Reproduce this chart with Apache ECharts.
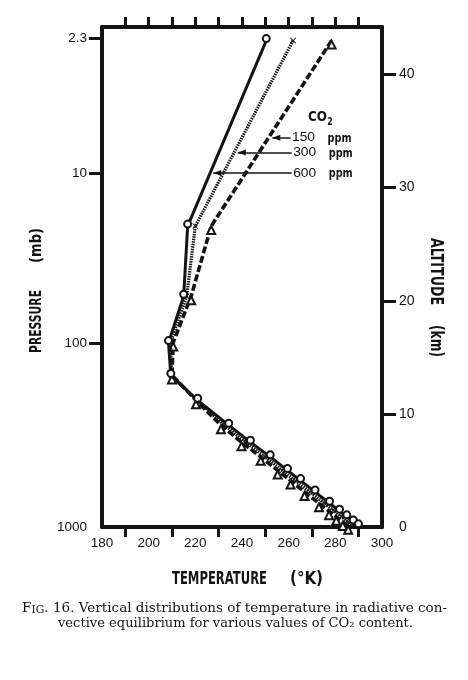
<!DOCTYPE html>
<html><head><meta charset="utf-8">
<script src="https://cdn.jsdelivr.net/npm/echarts@6/dist/echarts.min.js"></script>
<style>html,body{margin:0;padding:0;background:#fff}#c{width:468px;height:680px}</style>
</head><body><div id="c"></div>
<script>
// ---- data (altitude in km, temperature in K) ----
const levelsKm = [43.0, 26.6, 20.4, 16.3, 13.4, 11.2, 9.0, 7.5, 6.2, 5.0, 4.1, 3.1, 2.1, 1.4, 0.9, 0.45, 0.1];
const temp600 = [250.4, 216.7, 215.0, 208.5, 209.5, 221.0, 234.3, 243.6, 252.1, 259.5, 265.1, 271.3, 277.5, 281.8, 284.9, 287.7, 289.9];
const temp300 = [261.9, 220.0, 216.3, 209.3, 209.8, 220.7, 232.6, 241.6, 249.9, 257.3, 262.9, 269.1, 275.3, 279.6, 282.7, 285.5, 287.8];
const temp150 = [278.4, 226.8, 218.2, 210.5, 210.0, 220.3, 231.0, 239.8, 248.0, 255.3, 260.8, 266.8, 273.0, 277.3, 280.4, 283.2, 285.5];
const seriesNames = ['600 ppm', '300 ppm', '150 ppm'];

const tempLabelTicks = [190, 210, 230, 250, 270, 290];
const tempTopTicks = [190, 200, 210, 220, 230, 240, 250, 260, 270, 280, 290];
const pressureLabels = ['1000', '100', '10', '2.3'];
const pressureAltKm = [0, 16.25, 31.3, 43.2];
const altitudeTicks = [0, 10, 20, 30, 40];

// CO2 annotation arrows: label, altitude, start T, tip T
const co2Values = ['600', '300', '150'];
const arrowAltKm = [31.3, 33.1, 34.42];
const arrowFromT = [261.3, 261.3, 260.8];
const arrowToT = [227.7, 238.2, 253.0];

const INK = '#141414';
const SANS = "'Liberation Sans', Arial, sans-serif";
const BOLD = "'DejaVu Sans', 'Liberation Sans', sans-serif";
const SERIF = "'DejaVu Serif', 'Liberation Serif', serif";

const chart = echarts.init(document.getElementById('c'), null, {renderer: 'canvas'});
const mctx = document.createElement('canvas').getContext('2d');
function textW(text, fam, size, weight) {
  mctx.font = (weight || 'normal') + ' ' + size + 'px ' + fam;
  return mctx.measureText(text).width;
}
// text fitted to a given length (condensed/expanded horizontally)
function fitText(text, fam, size, weight, cx, cy, len, rot) {
  return {
    type: 'text', x: cx, y: cy, rotation: rot || 0, scaleX: len / textW(text, fam, size, weight), silent: true,
    style: {text: text, fontFamily: fam, fontSize: size, fontWeight: weight, fill: INK, align: 'center', verticalAlign: 'middle'}
  };
}

function pts(temps) { return levelsKm.map((z, i) => [temps[i], z]); }
function arrowShaft(i) {
  return {
    silent: true,
    symbol: 'none',
    lineStyle: {color: INK, width: 1.5, type: 'solid'},
    label: {show: false},
    data: [[{coord: [arrowFromT[i], arrowAltKm[i]]}, {coord: [arrowToT[i], arrowAltKm[i]]}]]
  };
}
const crossPath = 'path://M0,1L1,0L5,4L9,0L10,1L6,5L10,9L9,10L5,6L1,10L0,9L4,5Z';

const axisLine = {show: true, onZero: false, lineStyle: {color: INK, width: 4}};
const option = {
  backgroundColor: '#fff',
  animation: false,
  grid: {left: 102, right: 86, top: 27, bottom: 153, containLabel: false, outerBoundsMode: 'none'},
  xAxis: [
    {
      type: 'value', position: 'bottom', min: 180, max: 300, interval: 20,
      axisLine: axisLine,
      axisTick: {show: true, customValues: tempLabelTicks, length: 10, lineStyle: {color: INK, width: 3}},
      axisLabel: {color: INK, fontFamily: SANS, fontSize: 13.5, margin: 9},
      splitLine: {show: false}
    },
    {
      type: 'value', position: 'top', min: 180, max: 300,
      axisLine: axisLine,
      axisTick: {show: true, customValues: tempTopTicks, length: 10, lineStyle: {color: INK, width: 3}},
      axisLabel: {show: false}, splitLine: {show: false}
    }
  ],
  yAxis: [
    {
      type: 'value', position: 'left', min: 0, max: 44.2,
      axisLine: axisLine,
      axisTick: {show: true, customValues: pressureAltKm.slice(1), length: 13, lineStyle: {color: INK, width: 3}},
      axisLabel: {
        customValues: pressureAltKm, margin: 15, color: INK, fontFamily: SANS, fontSize: 13.5,
        formatter: v => {
          let best = 0;
          pressureAltKm.forEach((a, i) => { if (Math.abs(a - v) < Math.abs(pressureAltKm[best] - v)) best = i; });
          return pressureLabels[best];
        }
      },
      splitLine: {show: false}
    },
    {
      type: 'value', position: 'right', min: 0, max: 44.2,
      axisLine: axisLine,
      axisTick: {show: true, customValues: altitudeTicks.slice(1), length: 14, lineStyle: {color: INK, width: 3}},
      axisLabel: {customValues: altitudeTicks, margin: 17, color: INK, fontFamily: SANS, fontSize: 14},
      splitLine: {show: false}
    }
  ],
  series: [
    {
      name: seriesNames[2], type: 'line', xAxisIndex: 0, yAxisIndex: 1, data: pts(temp150),
      lineStyle: {color: INK, width: 3.6, type: [7, 2.7]},
      symbol: 'emptyTriangle', symbolSize: 8, symbolOffset: [0, 4], showAllSymbol: true,
      itemStyle: {color: INK, borderColor: INK, borderWidth: 1.1},
      markLine: arrowShaft(2), z: 2
    },
    {
      name: seriesNames[1], type: 'line', xAxisIndex: 0, yAxisIndex: 1, data: pts(temp300),
      lineStyle: {color: INK, width: 3.2, type: [1.5, 1]},
      symbol: crossPath, symbolSize: 6, showAllSymbol: true,
      itemStyle: {color: INK, borderWidth: 0},
      markLine: arrowShaft(1), z: 3
    },
    {
      name: seriesNames[0], type: 'line', xAxisIndex: 0, yAxisIndex: 1, data: pts(temp600),
      lineStyle: {color: INK, width: 3},
      symbol: 'emptyCircle', symbolSize: 7, symbolOffset: [0, -2], showAllSymbol: true,
      itemStyle: {color: INK, borderColor: INK, borderWidth: 1.1},
      markLine: arrowShaft(0), z: 4
    }
  ]
};
chart.setOption(option);

// ---- text annotations ----
const g = [];
// axis titles
g.push(fitText('TEMPERATURE', BOLD, 17, 'bold', 219.5, 580, 95, 0));
g.push(fitText('(°K)', BOLD, 17, 'bold', 306.5, 580, 33, 0));
g.push(fitText('PRESSURE', BOLD, 16, 'bold', 37, 321.5, 63, Math.PI / 2));
g.push(fitText('(mb)', BOLD, 16, 'bold', 37, 245.5, 35, Math.PI / 2));
g.push(fitText('ALTITUDE', BOLD, 17, 'bold', 435, 271.5, 67, -Math.PI / 2));
g.push(fitText('(km)', BOLD, 17, 'bold', 435, 341, 32, -Math.PI / 2));
// CO2 legend
g.push(fitText('CO', BOLD, 14, 'bold', 317.5, 117, 19, 0));
g.push(fitText('2', BOLD, 10, 'bold', 330, 122.5, 5.5, 0));
co2Values.forEach((v, i) => {
  const p = chart.convertToPixel({xAxisIndex: 0, yAxisIndex: 1}, [arrowFromT[i], arrowAltKm[i]]);
  const tip = chart.convertToPixel({xAxisIndex: 0, yAxisIndex: 1}, [arrowToT[i], arrowAltKm[i]]);
  g.push({type: 'polygon', silent: true, z: 10,
    shape: {points: [[tip[0], tip[1]], [tip[0] + 8, tip[1] - 3], [tip[0] + 8, tip[1] + 3]]},
    style: {fill: INK}});
  g.push(fitText(v, SANS, 13.5, 'normal', p[0] + 13, p[1], 23, 0));
  g.push(fitText('ppm', BOLD, 12, 'bold', p[0] + 49, p[1] + 1, 24, 0));
});
// caption (line 1 with small caps, fitted to width)
(function () {
  const f = 13, fs = 10.4;
  const a = 'F', b = 'IG', c = '. 16. Vertical distributions of temperature in radiative con-';
  const wa = textW(a, SERIF, f), wb = textW(b, SERIF, fs), wc = textW(c, SERIF, f);
  const s = 425 / (wa + wb + wc), x0 = 22, y = 609;
  const mk = (t, size, x, yy) => ({type: 'text', x: x, y: yy, scaleX: s, silent: true,
    style: {text: t, fontFamily: SERIF, fontSize: size, fill: INK, align: 'left', verticalAlign: 'middle'}});
  g.push(mk(a, f, x0, y));
  g.push(mk(b, fs, x0 + wa * s, y + 0.9));
  g.push(mk(c, f, x0 + (wa + wb) * s, y));
  const l2 = 'vective equilibrium for various values of CO₂ content.';
  const s2 = 355 / textW(l2, SERIF, f);
  g.push({type: 'text', x: 58, y: 624, scaleX: s2, silent: true,
    style: {text: l2, fontFamily: SERIF, fontSize: f, fill: INK, align: 'left', verticalAlign: 'middle'}});
})();
chart.setOption({graphic: g});
</script></body></html>
